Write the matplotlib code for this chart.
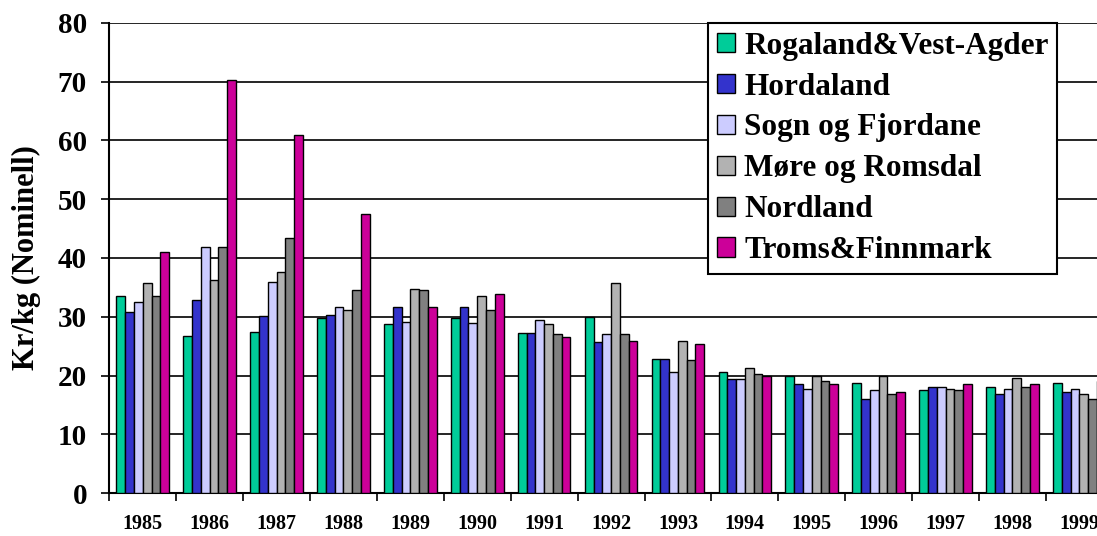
import matplotlib
matplotlib.use("Agg")
import matplotlib.pyplot as plt
import numpy as np

years = [str(y) for y in range(1985, 2000)]
series_names = ["Rogaland&Vest-Agder", "Hordaland", "Sogn og Fjordane",
                "Møre og Romsdal", "Nordland", "Troms&Finnmark"]
rogaland = [33.6, 26.7, 27.5, 29.8, 28.7, 29.8, 27.3, 30.0, 22.9, 20.7, 20.0, 18.8, 17.5, 18.0, 18.8]
hordaland = [30.8, 32.8, 30.1, 30.3, 31.7, 31.7, 27.3, 25.7, 22.9, 19.4, 18.6, 16.1, 18.0, 16.9, 17.2]
sogn = [32.5, 41.8, 36.0, 31.7, 29.2, 29.0, 29.5, 27.0, 20.7, 19.4, 17.7, 17.5, 18.0, 17.7, 17.7]
more = [35.8, 36.3, 37.7, 31.2, 34.7, 33.6, 28.7, 35.8, 25.9, 21.3, 20.0, 20.0, 17.7, 19.6, 16.9]
nordland = [33.6, 41.8, 43.4, 34.5, 34.5, 31.2, 27.0, 27.0, 22.7, 20.2, 19.1, 16.9, 17.5, 18.0, 16.1]
troms = [41.0, 70.2, 60.9, 47.5, 31.7, 33.9, 26.5, 25.9, 25.4, 20.0, 18.6, 17.2, 18.6, 18.6, 19.1]
series = [rogaland, hordaland, sogn, more, nordland, troms]
colors = ["#00CC99", "#3333CC", "#CCCCFF", "#B2B2B2", "#808080", "#CC0099"]

plt.rcParams['font.family'] = ['Liberation Serif', 'DejaVu Serif']
plt.rcParams['font.weight'] = 'bold'

fig = plt.figure(figsize=(10.97, 5.36), dpi=100)
ax = fig.add_axes([109.3 / 1097, (536 - 493.3) / 536, 1003.5 / 1097, (493.3 - 22.7) / 536])

n = len(series)
bw = 0.131
x = np.arange(len(years)) + 0.5
for i, (vals, c, name) in enumerate(zip(series, colors, series_names)):
    ax.bar(x + (i - (n - 1) / 2) * bw, vals, width=bw, color=c,
           edgecolor='black', linewidth=1.0, label=name, zorder=3)

ax.set_xlim(0, len(years))
ax.set_ylim(0, 80)
ax.set_yticks(np.arange(0, 81, 10))
ax.yaxis.grid(True, color='black', linewidth=1.2, zorder=0)
ax.set_axisbelow(True)

ax.set_xticks(x)
ax.set_xticklabels(years, fontsize=14.5, fontweight='bold')
ax.set_xticks(np.arange(0, len(years) + 1), minor=True)
ax.tick_params(axis='x', which='major', length=0, pad=15)
ax.tick_params(axis='x', which='minor', length=6, width=1.2, direction='out')
ax.tick_params(axis='y', length=6, width=1.2, direction='out', labelsize=21, pad=10)
for lab in ax.get_yticklabels():
    lab.set_fontweight('bold')

for s in ['top', 'right']:
    ax.spines[s].set_visible(False)
ax.spines['left'].set_linewidth(1.5)
ax.spines['bottom'].set_linewidth(1.5)

ax.set_ylabel("Kr/kg (Nominell)", fontsize=22, fontweight='bold', labelpad=12)

leg = fig.legend(loc='upper left', bbox_to_anchor=(708 / 1097, 1 - 23 / 536),
                 borderaxespad=0, frameon=True, fancybox=False,
                 framealpha=1, edgecolor='black', handlelength=0.58, handleheight=0.58,
                 handletextpad=0.3, labelspacing=0.38, borderpad=0.28,
                 prop={'family': 'Liberation Serif', 'weight': 'bold', 'size': 22.5})
leg.get_frame().set_linewidth(1.5)

fig.savefig("out.png", dpi=100)
